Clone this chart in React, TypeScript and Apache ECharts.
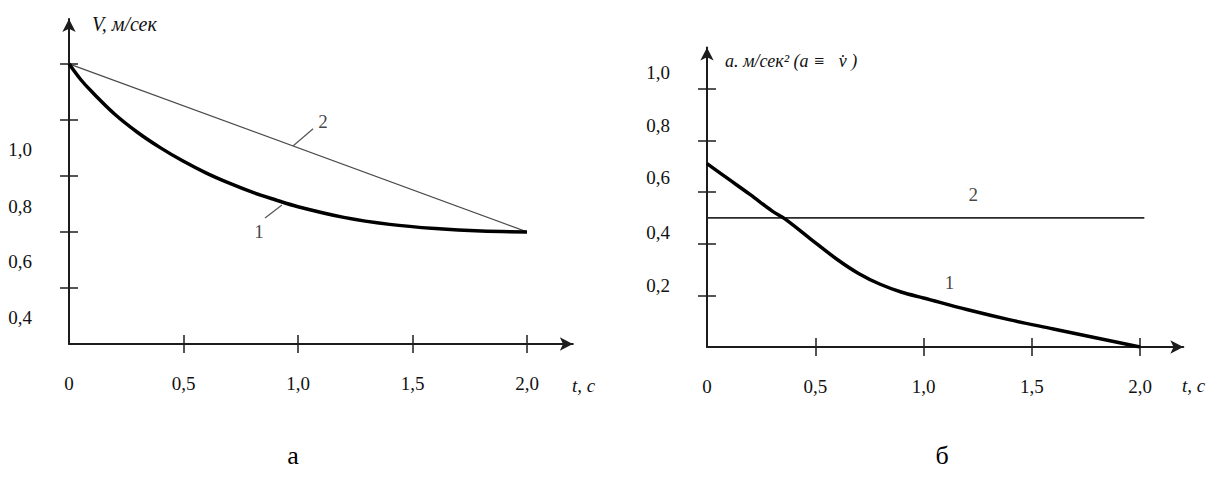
import React, { useEffect, useRef } from 'react';
import * as echarts from 'echarts';

// ---- Chart "а": velocity V, м/сек ----
const tCurveA = [0, 0.05, 0.1, 0.2, 0.3, 0.4, 0.5, 0.6, 0.7, 0.8, 0.9, 1.0, 1.2, 1.4, 1.6, 1.8, 2.0];
const vCurve1 = [1.3, 1.245, 1.2, 1.12, 1.055, 1.0, 0.952, 0.91, 0.874, 0.842, 0.815, 0.79, 0.752, 0.727, 0.712, 0.703, 0.7];
const tLine2A = [0, 2.0];
const vLine2 = [1.3, 0.7];

// ---- Chart "б": acceleration a, м/сек² ----
const tCurveB = [0, 0.1, 0.2, 0.3, 0.36, 0.476, 0.6, 0.7, 0.8, 0.9, 1.0, 1.2, 1.4, 1.6, 1.8, 2.0];
const aCurve1 = [0.71, 0.65, 0.59, 0.527, 0.496, 0.42, 0.34, 0.285, 0.243, 0.212, 0.19, 0.145, 0.105, 0.07, 0.035, 0];
const tLine2B = [0, 2.02];
const aLine2 = [0.5, 0.5];

// ---- Ticks and tick labels ----
const xTickVals = [0.5, 1.0, 1.5, 2.0];
const xLabelVals = [0, 0.5, 1.0, 1.5, 2.0];
const yTickValsA = [0.5, 0.7, 0.9, 1.1, 1.3];
const yLabelTextsA = ['0,4', '0,6', '0,8', '1,0'];
const yLabelPosA = [0.396, 0.593, 0.789, 0.993];
const yTickValsB = [0.2, 0.4, 0.6, 0.8, 1.0];
const yLabelTextsB = ['0,2', '0,4', '0,6', '0,8', '1,0'];
const yLabelPosB = [0.24, 0.442, 0.655, 0.857, 1.062];

// ---- Curve annotations ----
const annotTextsA = ['2', '1'];
const annotPosA = [[1.109, 1.093], [0.83, 0.7]];
const leader2A = [[1.066, 1.068], [0.978, 1.007]];
const leader1A = [[0.856, 0.75], [0.93, 0.796]];
const annotTextsB = ['2', '1'];
const annotPosB = [[1.23, 0.59], [1.12, 0.25]];

const zip = (a: number[], b: number[]) => a.map((x, i) => [x, b[i]]);
const AX = '#1c1c1c';
const SERIF = 'Liberation Serif';

const fmtX = (v: number) => (Math.abs(v) < 1e-9 ? '0' : v.toFixed(1).replace('.', ','));
const fmtFrom = (pos: number[], texts: string[]) => (v: number) => {
  const i = pos.findIndex((p) => Math.abs(p - v) < 1e-6);
  return i >= 0 ? texts[i] : '';
};

function xAxes(gridIndex: number, max: number) {
  const tickStyle = { color: AX, width: 1.5 };
  return [
    {
      type: 'value', gridIndex, min: 0, max, position: 'bottom',
      axisLine: { show: true, onZero: false, symbol: ['none', 'arrow'], symbolSize: [10, 13], lineStyle: { color: AX, width: 2 } },
      axisTick: { show: true, inside: false, length: 9, customValues: xTickVals, lineStyle: tickStyle },
      axisLabel: { show: true, customValues: xLabelVals, margin: 30, formatter: fmtX, color: '#111', fontFamily: SERIF, fontSize: 19 },
      splitLine: { show: false },
    },
    {
      type: 'value', gridIndex, min: 0, max, position: 'bottom',
      axisLine: { show: false, onZero: false },
      axisTick: { show: true, inside: true, length: 9, customValues: xTickVals, lineStyle: tickStyle },
      axisLabel: { show: false },
      splitLine: { show: false },
    },
  ];
}

function yAxes(gridIndex: number, min: number, max: number, ticks: number[], labelPos: number[], labelTexts: string[]) {
  const tickStyle = { color: AX, width: 1.5 };
  return [
    {
      type: 'value', gridIndex, min, max, position: 'left',
      axisLine: { show: true, onZero: false, symbol: ['none', 'arrow'], symbolSize: [10, 13], lineStyle: { color: AX, width: 2 } },
      axisTick: { show: true, inside: false, length: 9, customValues: ticks, lineStyle: tickStyle },
      axisLabel: { show: true, customValues: labelPos, margin: 37, formatter: fmtFrom(labelPos, labelTexts), color: '#111', fontFamily: SERIF, fontSize: 19 },
      splitLine: { show: false },
    },
    {
      type: 'value', gridIndex, min, max, position: 'left',
      axisLine: { show: false, onZero: false },
      axisTick: { show: true, inside: true, length: 9, customValues: ticks, lineStyle: tickStyle },
      axisLabel: { show: false },
      splitLine: { show: false },
    },
  ];
}

function lineSeries(xi: number, yi: number, data: number[][], color: string, width: number, smooth: boolean | number) {
  return {
    type: 'line', xAxisIndex: xi, yAxisIndex: yi, data, smooth, showSymbol: false, symbol: 'none',
    lineStyle: { color, width }, silent: true, z: 3,
  };
}

function labelSeries(xi: number, yi: number, pos: number[][], texts: string[]) {
  return {
    type: 'scatter', xAxisIndex: xi, yAxisIndex: yi, symbolSize: 1,
    itemStyle: { color: 'transparent' }, silent: true,
    data: pos.map((p, i) => ({ value: p, name: texts[i] })),
    label: { show: true, position: 'inside', formatter: (p: any) => p.name, color: '#111', fontFamily: SERIF, fontSize: 19 },
  };
}

export default function App() {
  const ref = useRef<HTMLDivElement>(null);
  useEffect(() => {
    if (!ref.current) return;
    const chart = echarts.init(ref.current, undefined, { renderer: 'svg' });
    const option: any = {
      animation: false,
      backgroundColor: '#ffffff',
      grid: [
        { left: 69, top: 19, width: 503.8, height: 325, containLabel: false, outerBoundsMode: 'none' },
        { left: 707, top: 47.5, width: 476.3, height: 299.5, containLabel: false, outerBoundsMode: 'none' },
      ],
      xAxis: [...xAxes(0, 2.2), ...xAxes(1, 2.2)],
      yAxis: [
        ...yAxes(0, 0.3, 1.46, yTickValsA, yLabelPosA, yLabelTextsA),
        ...yAxes(1, 0, 1.16, yTickValsB, yLabelPosB, yLabelTextsB),
      ],
      series: [
        lineSeries(0, 0, zip(tLine2A, vLine2), '#4a4a4a', 1.2, false),
        lineSeries(0, 0, zip(tCurveA, vCurve1), '#000000', 3.5, 0.35),
        lineSeries(0, 0, leader2A, '#555555', 1.2, false),
        lineSeries(0, 0, leader1A, '#555555', 1.2, false),
        labelSeries(0, 0, annotPosA, annotTextsA),
        lineSeries(2, 2, zip(tLine2B, aLine2), '#2a2a2a', 1.6, false),
        lineSeries(2, 2, zip(tCurveB, aCurve1), '#000000', 3.5, 0.35),
        labelSeries(2, 2, annotPosB, annotTextsB),
      ],
      graphic: [
        { type: 'text', x: 92, y: 24, style: { text: 'V, м/сек', fontFamily: SERIF, fontStyle: 'italic', fontSize: 20, fill: '#111', align: 'left', verticalAlign: 'middle' } },
        { type: 'text', x: 725, y: 61, style: { text: 'a. м/сек² (a ≡   v̇ )', fontFamily: SERIF, fontStyle: 'italic', fontSize: 18, fill: '#111', align: 'left', verticalAlign: 'middle' } },
        { type: 'text', x: 572, y: 385, style: { text: 't, c', fontFamily: SERIF, fontStyle: 'italic', fontSize: 19, fill: '#111', align: 'left', verticalAlign: 'middle' } },
        { type: 'text', x: 1182, y: 385, style: { text: 't, c', fontFamily: SERIF, fontStyle: 'italic', fontSize: 19, fill: '#111', align: 'left', verticalAlign: 'middle' } },
        { type: 'text', x: 293, y: 455, style: { text: 'а', fontFamily: SERIF, fontSize: 26, fill: '#000', align: 'center', verticalAlign: 'middle' } },
        { type: 'text', x: 942, y: 455, style: { text: 'б', fontFamily: SERIF, fontSize: 26, fill: '#000', align: 'center', verticalAlign: 'middle' } },
      ],
    };
    chart.setOption(option);
    return () => chart.dispose();
  }, []);
  return (
    <div
      ref={ref}
      style={{ position: 'fixed', left: 0, top: 0, width: 1209, height: 477, background: '#fff' }}
    />
  );
}
